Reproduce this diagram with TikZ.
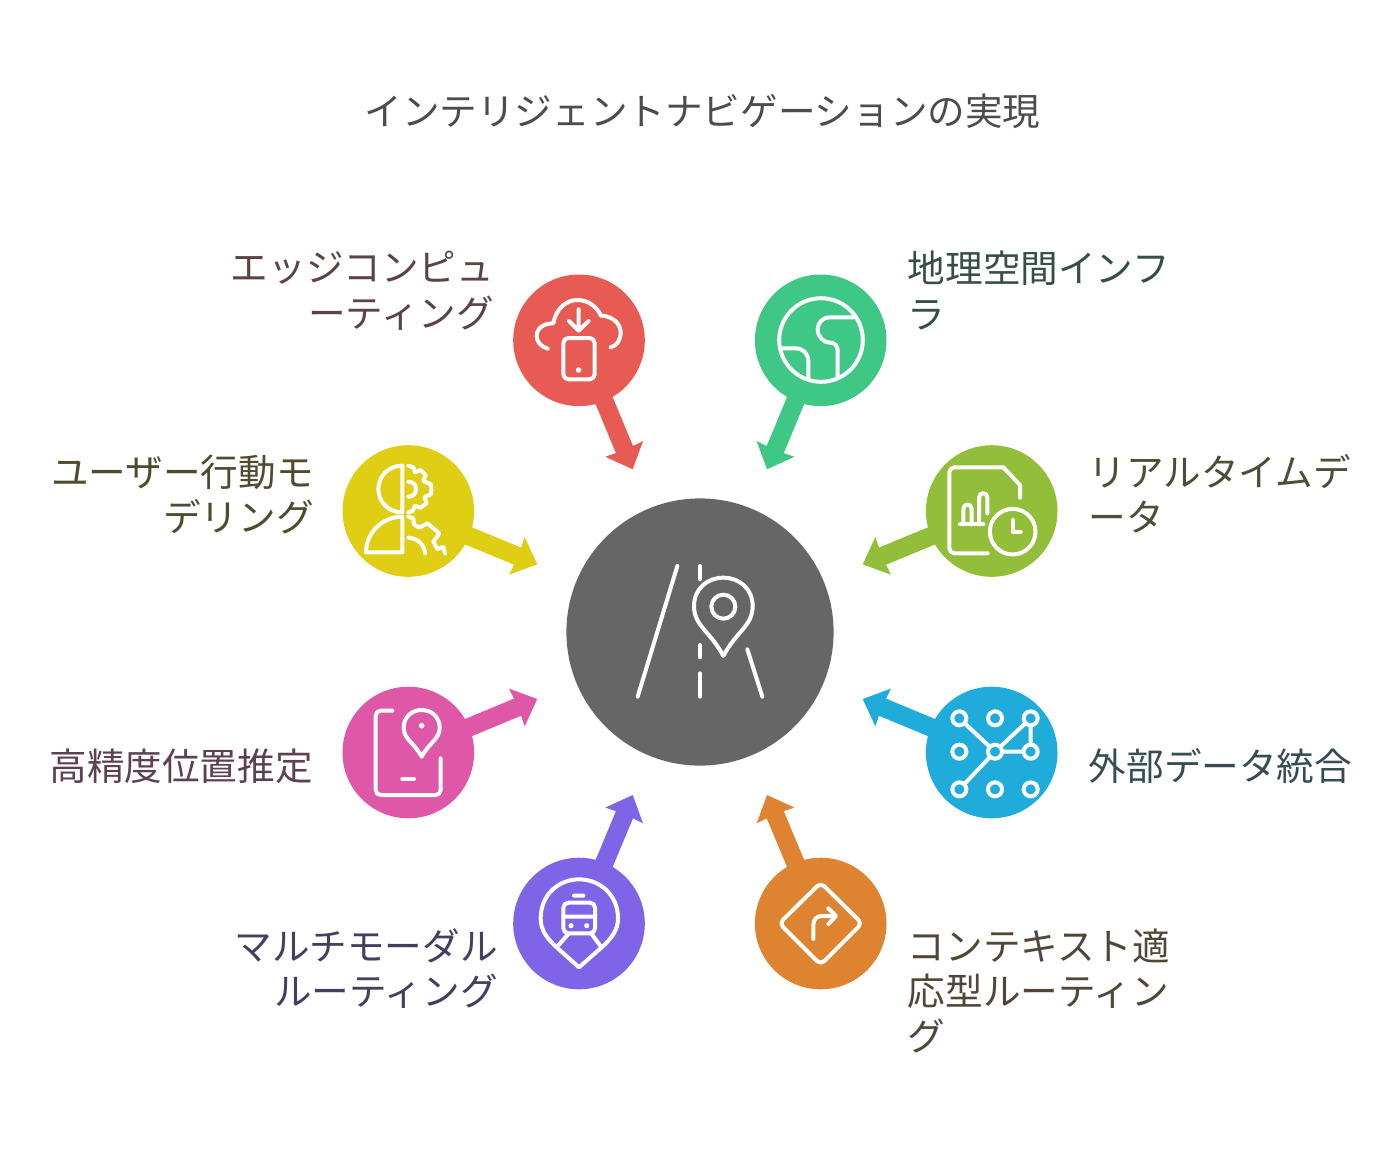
\documentclass[tikz,border=0pt]{standalone}
\usepackage{fontspec}
\setmainfont{Noto Sans CJK JP}
\usetikzlibrary{arrows.meta}
\definecolor{cred}{HTML}{E85A54}
\definecolor{cgreen}{HTML}{3EC785}
\definecolor{cyellow}{HTML}{E0CE14}
\definecolor{clime}{HTML}{92BE3A}
\definecolor{cpink}{HTML}{DF58A8}
\definecolor{cblue}{HTML}{1FACDB}
\definecolor{cpurple}{HTML}{8064E8}
\definecolor{corange}{HTML}{DE8430}
\definecolor{cgrey}{HTML}{666666}
\tikzset{
 hub/.style={circle,fill=cgrey,minimum size=133.6pt,inner sep=0pt},
 topic/.style={circle,fill=#1,minimum size=65.8pt,inner sep=0pt},
 spoke/.style={line width=9.25pt,draw=#1,-{Stealth[length=10.9pt,width=19.8pt,inset=0.5pt]}},
 lab/.style={inner sep=0pt,font=\fontsize{18.8}{22.6}\selectfont},
 labr/.style={lab,align=right,anchor=north east},
 labl/.style={lab,align=left,anchor=north west},
 ic/.style={draw=white,line width=2pt,line cap=round,line join=round},
 dotw/.style={fill=white,draw=none},
 zm/.style={x=0.16667pt,y=-0.16667pt},
}
\newcommand{\teardrop}[5]{%
 (#1,#2) .. controls ({#1-0.45*#4},{#2-0.32*(#2-#3)}) and ({#1-#4},{#5+0.4*(#2-#5)}) .. ({#1-#4},#5) .. controls ({#1-#4},{#5-0.6*(#5-#3)}) and ({#1-0.55*#4},#3) .. (#1,#3) .. controls ({#1+0.55*#4},#3) and ({#1+#4},{#5-0.6*(#5-#3)}) .. ({#1+#4},#5) .. controls ({#1+#4},{#5+0.4*(#2-#5)}) and ({#1+0.45*#4},{#2-0.32*(#2-#3)}) .. cycle
}
\begin{document}
\begin{tikzpicture}[x=0.5pt,y=-0.5pt]
\useasboundingbox (0,0) rectangle (1400,1151);
\node[inner sep=0pt,font=\fontsize{18.8}{22.6}\selectfont,text=black!70] (title) at (702.5,111) {インテリジェントナビゲーションの実現};

\node[hub] (hub) at (700,632) {};
\node[topic=cred] (edge) at (579,340.3) {};
\node[topic=cgreen] (geo) at (820.7,340.3) {};
\node[topic=cyellow] (user) at (408.3,511) {};
\node[topic=clime] (live) at (991.7,511) {};
\node[topic=cpink] (pos) at (408.3,752.5) {};
\node[topic=cblue] (ext) at (991.7,752.5) {};
\node[topic=cpurple] (multi) at (579,923.5) {};
\node[topic=corange] (ctx) at (820.7,923.5) {};

\coordinate (tedge) at (632.7,469.3);
\coordinate (tgeo) at (767,469.3);
\coordinate (tuser) at (537.3,564.3);
\coordinate (tlive) at (862.7,564.3);
\coordinate (tpos) at (537.3,699);
\coordinate (tex) at (862.7,699);
\coordinate (tmulti) at (632.7,795);
\coordinate (tctx) at (767,795);
\draw[spoke=cred] (edge.center) -- (tedge);
\draw[spoke=cgreen] (geo.center) -- (tgeo);
\draw[spoke=cyellow] (user.center) -- (tuser);
\draw[spoke=clime] (live.center) -- (tlive);
\draw[spoke=cpink] (pos.center) -- (tpos);
\draw[spoke=cblue] (ext.center) -- (tex);
\draw[spoke=cpurple] (multi.center) -- (tmulti);
\draw[spoke=corange] (ctx.center) -- (tctx);

% labels
\node[labr,text={rgb,255:red,92;green,68;blue,68}] (ledge) at (494.5,251) {エッジコンピュ\\ーティング};
\node[labl,text={rgb,255:red,54;green,78;blue,68}] (lgeo) at (907.5,251) {地理空間インフ\\ラ};
\node[labr,text={rgb,255:red,80;green,74;blue,46}] (luser) at (314,454) {ユーザー行動モ\\デリング};
\node[labl,text={rgb,255:red,72;green,80;blue,54}] (llive) at (1088.5,454) {リアルタイムデ\\ータ};
\node[labr,text={rgb,255:red,92;green,66;blue,80}] (lpos) at (313,748) {高精度位置推定};
\node[labl,text={rgb,255:red,54;green,76;blue,86}] (lext) at (1088.5,748) {外部データ統合};
\node[labr,text={rgb,255:red,70;green,62;blue,96}] (lmulti) at (498,928) {マルチモーダル\\ルーティング};
\node[labl,text={rgb,255:red,82;green,70;blue,56}] (lctx) at (907.5,928) {コンテキスト適\\応型ルーティン\\グ};

% red icon
\begin{scope}[shift={(500,260)},zm]
\draw[ic] (143,266) .. controls (122,260) and (110,245) .. (110,228) .. controls (110,205) and (130,190) .. (160,190) .. controls (168,145) and (200,120) .. (232,120) .. controls (265,120) and (290,140) .. (303,167) .. controls (335,167) and (362,190) .. (362,217) .. controls (362,240) and (350,258) .. (332,262);
\draw[ic] (236,148)--(236,212) (207,183)--(236,212)--(266,183);
\draw[ic,rounded corners=2.5pt] (190,234) rectangle (284,358);
\fill[dotw] (236,330) circle (1.4pt);
\end{scope}
% green icon
\begin{scope}[shift={(500,260)},zm]
\draw[ic] (963,240) circle (20.9pt);
\draw[ic] (1060,172) -- (990,172) .. controls (968,172) and (953,188) .. (953,207) .. controls (953,232) and (972,248) .. (990,248) .. controls (1005,248) and (1013,258) .. (1013,272) -- (1013,352);
\draw[ic] (845,265) -- (885,265) .. controls (910,265) and (925,280) .. (925,305) -- (925,358);
\end{scope}
% yellow icon
\begin{scope}[shift={(330,435)},zm]
\draw[ic] (217,92) -- (217,232) .. controls (175,232) and (145,200) .. (145,162) .. controls (145,124) and (175,92) .. cycle;
\draw[ic] (217,245) -- (217,352) -- (108,352) .. controls (108,295) and (155,245) .. cycle;
\draw[ic] (235,92)--(250,97)--(255,112)--(272,105)--(287,120)--(280,138)--(303,148)--(303,178)--(283,186)--(290,204)--(272,218)--(255,212)--(248,228)--(235,232);
\draw[ic] (235,140) .. controls (250,140) and (258,150) .. (258,162) .. controls (258,175) and (250,185) .. (235,185);
\draw[ic] (235,245)--(250,250)--(252,268)--(268,278)--(292,265)--(328,295)--(310,320)--(322,342)--(340,336)--(345,355);
\draw[ic] (235,308) .. controls (265,310) and (283,330) .. (285,355);
\end{scope}
% lime icon
\begin{scope}[shift={(855,435)},zm]
\draw[ic,rounded corners=2.5pt] (398,355)--(283,355)--(283,97)--(445,97);
\draw[ic] (445,97)--(495,150)--(495,188);
\draw[ic] (315,268)--(385,268);
\draw[ic] (325,268)--(325,222) .. controls (325,204) and (350,204) .. (350,222) -- (350,268);
\draw[ic] (372,268)--(372,188) .. controls (372,170) and (397,170) .. (397,188) -- (397,235);
\draw[ic] (473,290) circle (11.4pt);
\draw[ic] (473,255)--(473,290)--(497,290);
\end{scope}
% pink icon
\begin{scope}[shift={(330,680)},zm]
\draw[ic,rounded corners=2.5pt] (187,92)--(137,92)--(137,345)--(332,345)--(332,235);
\draw[ic] (217,296)--(252,296);
\draw[ic] \teardrop{275}{230}{90}{54}{143};
\fill[dotw] (275,137) circle (1.4pt);
\end{scope}
% blue icon
\begin{scope}[shift={(855,680)},zm]
\draw[ic] (313,115)--(420,215)--(527,115)--(527,215)--(420,215)--(313,328);
\foreach \p in {(313,115),(420,115),(527,115),(313,215),(420,215),(527,215),(313,328),(420,328),(527,328)}
  \draw[ic,fill=cblue] \p circle (3.5pt);
\end{scope}
% purple icon
\begin{scope}[shift={(500,790)},zm]
\draw[ic] (237,532) -- (170,472) .. controls (140,445) and (122,420) .. (122,385) .. controls (122,315) and (175,268) .. (237,268) .. controls (300,268) and (354,315) .. (354,385) .. controls (354,420) and (335,445) .. (305,472) -- cycle;
\draw[ic,rounded corners=2.5pt] (190,338) rectangle (285,430);
\draw[ic] (190,380)--(285,380) (222,317)--(250,317) (205,432)--(175,466) (275,432)--(300,466);
\fill[dotw] (213,407) circle (1.3pt) (260,407) circle (1.3pt);
\end{scope}
% orange icon
\begin{scope}[shift={(500,790)},zm]
\draw[ic,rounded corners=2.5pt] (962,278)--(1086,400)--(962,524)--(838,400)--cycle;
\draw[ic] (940,447)--(940,405) .. controls (940,388) and (950,378) .. (965,378) -- (1006,378);
\draw[ic] (985,355)--(1008,378)--(985,402);
\end{scope}
% hub icon
\begin{scope}[shift={(600,540)},zm]
\draw[ic] (232,78)--(113,470);
\draw[ic] (300,78)--(300,118) (300,315)--(300,352) (300,400)--(300,470);
\draw[ic] (442,328)--(487,470);
\draw[ic] \teardrop{370}{348}{113}{88}{198};
\draw[ic] (370,200) circle (6pt);
\end{scope}
\end{tikzpicture}
\end{document}
